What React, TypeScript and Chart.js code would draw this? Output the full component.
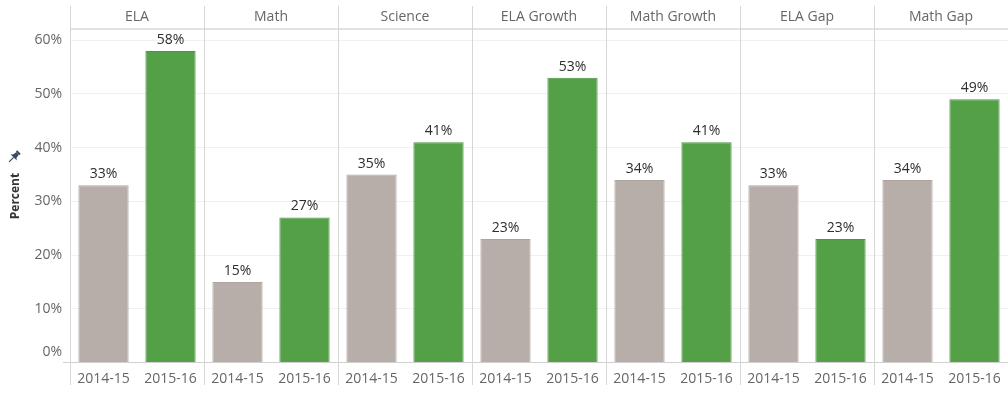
import { useEffect, useRef } from "react";
import { Chart, registerables } from "chart.js";

Chart.register(...registerables);

const panels = ["ELA", "Math", "Science", "ELA Growth", "Math Growth", "ELA Gap", "Math Gap"];
const years = ["2014-15", "2015-16"];
const values2014_15 = [0.33, 0.15, 0.35, 0.23, 0.34, 0.33, 0.34];
const values2015_16 = [0.58, 0.27, 0.41, 0.53, 0.41, 0.23, 0.49];
const yTickValues = [0, 0.1, 0.2, 0.3, 0.4, 0.5, 0.6];
const yMax = 0.62;

const FONT = "'Open Sans', 'Noto Sans', sans-serif";
const GREY = "#b8aea9";
const GREEN = "#53a047";

const labels: string[] = [];
const values: number[] = [];
const colors: string[] = [];
const borders: string[] = [];
panels.forEach((_, i) => {
  labels.push(years[0], years[1]);
  values.push(values2014_15[i], values2015_16[i]);
  colors.push(GREY, GREEN);
  borders.push("#aea49f", "#4a9540");
});

const facetPlugin = {
  id: "facets",
  beforeDatasetsDraw(chart: any) {
    const { ctx, chartArea } = chart;
    const x = chart.scales.x;
    const bounds: number[] = [chartArea.left];
    for (let k = 1; k < panels.length; k++) {
      bounds.push((x.getPixelForValue(2 * k - 1) + x.getPixelForValue(2 * k)) / 2);
    }
    ctx.save();
    // header bottom line
    ctx.strokeStyle = "#e2e2e2";
    ctx.lineWidth = 2;
    ctx.beginPath();
    ctx.moveTo(chartArea.left, 29);
    ctx.lineTo(chartArea.right, 29);
    ctx.stroke();
    // panel separators
    ctx.strokeStyle = "#d6d6d6";
    ctx.lineWidth = 1;
    bounds.forEach((b) => {
      const px = Math.round(b) + 0.5;
      ctx.beginPath();
      ctx.moveTo(px, 6);
      ctx.lineTo(px, 385);
      ctx.stroke();
    });
    ctx.restore();
  },
  afterDatasetsDraw(chart: any) {
    const { ctx } = chart;
    const meta = chart.getDatasetMeta(0);
    const data = chart.data.datasets[0].data as number[];
    ctx.save();
    ctx.font = `14px ${FONT}`;
    ctx.fillStyle = "#2e2e2e";
    ctx.textAlign = "center";
    ctx.textBaseline = "alphabetic";
    meta.data.forEach((bar: any, i: number) => {
      ctx.fillText(Math.round(data[i] * 100) + "%", bar.x, bar.y - 7);
    });
    ctx.restore();
  },
  afterDraw(chart: any) {
    const { ctx } = chart;
    // pin icon next to axis title
    ctx.save();
    ctx.translate(14, 157);
    ctx.rotate(Math.PI / 4);
    ctx.fillStyle = "#3b4a5e";
    ctx.strokeStyle = "#3b4a5e";
    ctx.fillRect(-2.5, -7, 5, 2);
    ctx.beginPath();
    ctx.moveTo(-1.8, -5);
    ctx.lineTo(1.8, -5);
    ctx.lineTo(2.5, -1);
    ctx.lineTo(4.5, 0.5);
    ctx.lineTo(-4.5, 0.5);
    ctx.lineTo(-2.5, -1);
    ctx.closePath();
    ctx.fill();
    ctx.lineWidth = 1.2;
    ctx.beginPath();
    ctx.moveTo(0, 0.5);
    ctx.lineTo(0, 7);
    ctx.stroke();
    ctx.restore();
  },
};

export default function App() {
  const canvasRef = useRef<HTMLCanvasElement | null>(null);

  useEffect(() => {
    document.body.style.margin = "0";
    const canvas = canvasRef.current;
    if (!canvas) return;
    const chart = new Chart(canvas, {
      type: "bar",
      data: {
        labels,
        datasets: [
          {
            data: values,
            backgroundColor: colors,
            borderColor: borders,
            borderWidth: 1,
            categoryPercentage: 1,
            barPercentage: 0.75,
          },
        ],
      },
      options: {
        responsive: false,
        animation: false,
        devicePixelRatio: 1,
        layout: { padding: 0 },
        plugins: {
          legend: { display: false },
          tooltip: { enabled: false },
        },
        scales: {
          x: {
            type: "category",
            position: "bottom",
            grid: { display: false },
            border: { display: true, color: "#d0d0d0" },
            ticks: {
              color: "#666666",
              font: { family: FONT, size: 14 },
              padding: 0,
              maxRotation: 0,
              autoSkip: false,
            },
            afterFit(s: any) {
              s.height = 38.5;
            },
          },
          xTop: {
            type: "category",
            position: "top",
            labels: panels,
            offset: true,
            grid: { display: false },
            border: { display: false },
            ticks: {
              color: "#666666",
              font: { family: FONT, size: 14 },
              padding: -4,
              maxRotation: 0,
              autoSkip: false,
            },
            afterFit(s: any) {
              s.height = 29.5;
            },
          },
          y: {
            min: 0,
            max: yMax,
            afterBuildTicks(s: any) {
              s.ticks = yTickValues.map((v) => ({ value: v }));
            },
            grid: {
              color: "#f0f0f0",
              drawTicks: true,
              tickLength: 7,
              tickColor: (c: any) => (c.tick && c.tick.value === 0 ? "#d0d0d0" : "rgba(0,0,0,0)"),
            },
            border: { display: false },
            ticks: {
              color: "#666666",
              font: { family: FONT, size: 14, lineHeight: 1.43 },
              padding: 1,
              callback: (v: any) => (Number(v) === 0 ? ["0%", ""] : Math.round(Number(v) * 100) + "%"),
            },
            title: {
              display: true,
              text: "Percent",
              color: "#333333",
              font: { family: FONT, size: 12, weight: "bold" },
              padding: { top: 8, bottom: 0 },
            },
            afterFit(s: any) {
              s.width = 70;
            },
          },
        },
      },
      plugins: [facetPlugin],
    });
    return () => chart.destroy();
  }, []);

  return (
    <div style={{ width: 1008, height: 401 }}>
      <canvas ref={canvasRef} width={1008} height={401} style={{ display: "block" }} />
    </div>
  );
}
